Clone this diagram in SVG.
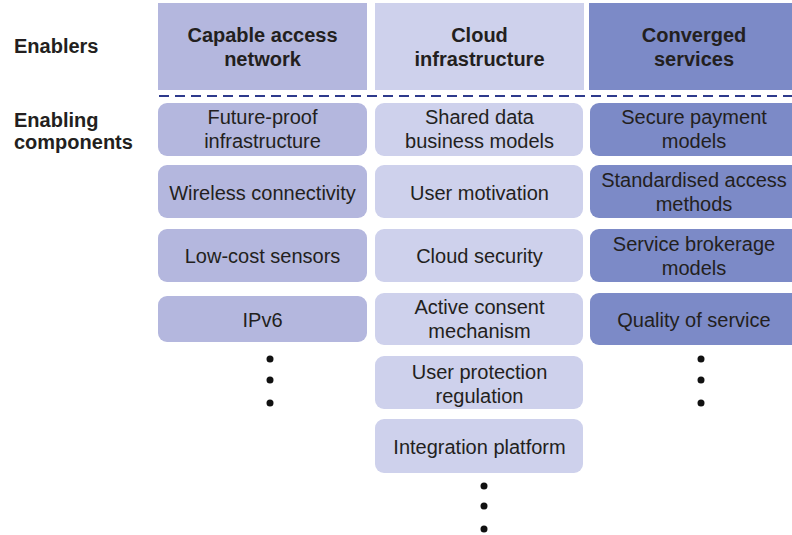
<svg xmlns="http://www.w3.org/2000/svg" width="792" height="535" viewBox="0 0 792 535">
  <style>
    .lbl { font-family: "Liberation Sans", Arial, sans-serif; font-size: 20px; fill: #231f20; }
    .b { font-weight: bold; }
    .mid { text-anchor: middle; }
    .c1 { fill: #b4b7de; }
    .c2 { fill: #ced1ec; }
    .c3 { fill: #7c8ac7; }
    .dot { fill: #111111; }
    .sep { stroke: #2e3a8c; stroke-width: 2; stroke-dasharray: 10 6; fill: none; }
  </style>
  <rect width="792" height="535" fill="#ffffff"/>

  <!-- row captions -->
  <g id="captions">
    <text class="lbl b" x="14" y="53">Enablers</text>
    <text class="lbl b" x="14" y="127">Enabling</text>
    <text class="lbl b" x="14" y="149">components</text>
  </g>

  <!-- enabler headers -->
  <g id="hdr-access">
    <rect class="c1" x="158" y="3" width="209" height="87"/>
    <text class="lbl b mid" x="262.5" y="42">Capable access</text>
    <text class="lbl b mid" x="262.5" y="66">network</text>
  </g>
  <g id="hdr-cloud">
    <rect class="c2" x="375" y="3" width="209" height="87"/>
    <text class="lbl b mid" x="479.5" y="42">Cloud</text>
    <text class="lbl b mid" x="479.5" y="66">infrastructure</text>
  </g>
  <g id="hdr-services">
    <rect class="c3" x="589" y="3" width="215" height="87"/>
    <text class="lbl b mid" x="694" y="42">Converged</text>
    <text class="lbl b mid" x="694" y="66">services</text>
  </g>

  <!-- dashed divider between enablers and components -->
  <g id="connectors">
    <line class="sep" x1="159" y1="96" x2="792" y2="96"/>
  </g>

  <!-- column 1: capable access network -->
  <g id="a1">
    <rect class="c1" x="158" y="103" width="209" height="53" rx="9"/>
    <text class="lbl mid" x="262.5" y="124">Future-proof</text>
    <text class="lbl mid" x="262.5" y="148">infrastructure</text>
  </g>
  <g id="a2">
    <rect class="c1" x="158" y="165" width="209" height="53" rx="9"/>
    <text class="lbl mid" x="262.5" y="200">Wireless connectivity</text>
  </g>
  <g id="a3">
    <rect class="c1" x="158" y="229" width="209" height="53" rx="9"/>
    <text class="lbl mid" x="262.5" y="263">Low-cost sensors</text>
  </g>
  <g id="a4">
    <rect class="c1" x="158" y="296" width="209" height="46" rx="9"/>
    <text class="lbl mid" x="262.5" y="326.5">IPv6</text>
  </g>
  <g id="a-more">
    <circle class="dot" cx="270" cy="359" r="3.5"/>
    <circle class="dot" cx="270" cy="380" r="3.5"/>
    <circle class="dot" cx="270" cy="403" r="3.5"/>
  </g>

  <!-- column 2: cloud infrastructure -->
  <g id="b1">
    <rect class="c2" x="375" y="103" width="208" height="53" rx="9"/>
    <text class="lbl mid" x="479.5" y="124">Shared data</text>
    <text class="lbl mid" x="479.5" y="148">business models</text>
  </g>
  <g id="b2">
    <rect class="c2" x="375" y="165" width="208" height="53" rx="9"/>
    <text class="lbl mid" x="479.5" y="200">User motivation</text>
  </g>
  <g id="b3">
    <rect class="c2" x="375" y="229" width="208" height="53" rx="9"/>
    <text class="lbl mid" x="479.5" y="263">Cloud security</text>
  </g>
  <g id="b4">
    <rect class="c2" x="375" y="293" width="208" height="52" rx="9"/>
    <text class="lbl mid" x="479.5" y="314">Active consent</text>
    <text class="lbl mid" x="479.5" y="338">mechanism</text>
  </g>
  <g id="b5">
    <rect class="c2" x="375" y="356" width="208" height="53" rx="9"/>
    <text class="lbl mid" x="479.5" y="378.5">User protection</text>
    <text class="lbl mid" x="479.5" y="402.5">regulation</text>
  </g>
  <g id="b6">
    <rect class="c2" x="375" y="419" width="208" height="54" rx="9"/>
    <text class="lbl mid" x="479.5" y="454">Integration platform</text>
  </g>
  <g id="b-more">
    <circle class="dot" cx="484" cy="486" r="3.5"/>
    <circle class="dot" cx="484" cy="506" r="3.5"/>
    <circle class="dot" cx="484" cy="529" r="3.5"/>
  </g>

  <!-- column 3: converged services -->
  <g id="c1">
    <rect class="c3" x="590" y="103" width="215" height="53" rx="9"/>
    <text class="lbl mid" x="694" y="124">Secure payment</text>
    <text class="lbl mid" x="694" y="148">models</text>
  </g>
  <g id="c2">
    <rect class="c3" x="590" y="165" width="215" height="53" rx="9"/>
    <text class="lbl mid" x="694" y="187">Standardised access</text>
    <text class="lbl mid" x="694" y="211">methods</text>
  </g>
  <g id="c3">
    <rect class="c3" x="590" y="229" width="215" height="53" rx="9"/>
    <text class="lbl mid" x="694" y="251">Service brokerage</text>
    <text class="lbl mid" x="694" y="275">models</text>
  </g>
  <g id="c4">
    <rect class="c3" x="590" y="293" width="215" height="52" rx="9"/>
    <text class="lbl mid" x="694" y="326.5">Quality of service</text>
  </g>
  <g id="c-more">
    <circle class="dot" cx="701" cy="359" r="3.5"/>
    <circle class="dot" cx="701" cy="380" r="3.5"/>
    <circle class="dot" cx="701" cy="403" r="3.5"/>
  </g>
</svg>
